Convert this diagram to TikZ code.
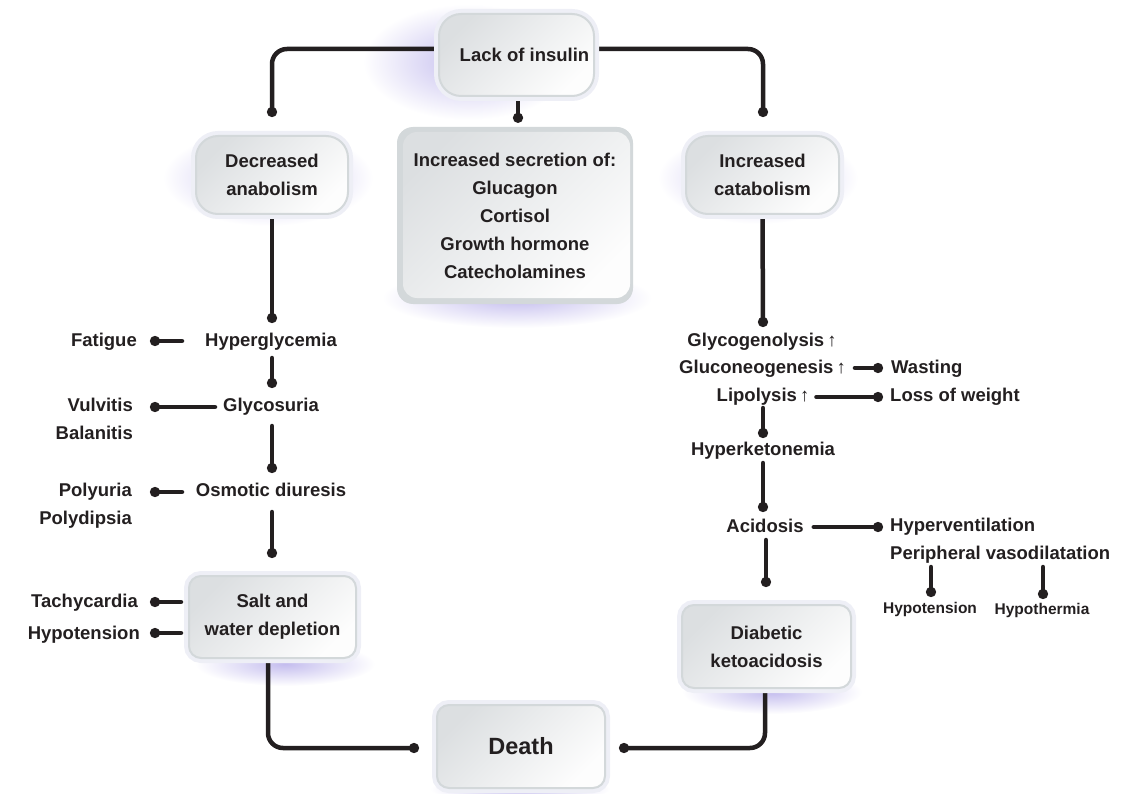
\documentclass[tikz,border=0pt]{standalone}
\usepackage{fontspec}
\setmainfont{Liberation Sans}
\usetikzlibrary{arrows.meta,calc}
\pgfdeclarelayer{glowlayer}
\pgfdeclarelayer{linelayer}
\pgfsetlayers{glowlayer,linelayer,main}
\definecolor{ink}{HTML}{231F20}
\definecolor{edge}{HTML}{D3D8DA}
\definecolor{rim}{HTML}{EEEFF6}
\definecolor{boxtop}{HTML}{DCDFE1}
\definecolor{boxbot}{HTML}{FDFDFD}
\definecolor{glow}{HTML}{C4BDEE}
\newcommand\mainfs{\fontsize{18.5}{28}\selectfont\bfseries}
\newcommand\smallfs{\fontsize{15.5}{20}\selectfont\bfseries}
\newcommand\bigfs{\fontsize{23.5}{28}\selectfont\bfseries}
\newcommand\uparr{{\mdseries\,↑}}
\begin{document}
\begin{tikzpicture}[x=1pt,y=-1pt,
  lbl/.style={font=\mainfs, text=ink, inner sep=0pt, text height=14.5pt, text depth=2.5pt},
  smalllbl/.style={font=\smallfs, text=ink, inner sep=0pt, text height=12pt, text depth=2pt},
  panel/.style={rectangle, rounded corners=12pt, draw=edge, line width=2pt,
    top color=boxtop, bottom color=boxbot, shading angle=45,
    preaction={draw=rim, line width=10pt},
    font=\mainfs, text=ink, align=center, inner sep=0pt},
  secbox/.style={rectangle, rounded corners=16pt, fill=edge, font=\mainfs, text=ink,
    align=center, inner sep=0pt,
    path picture={\shade[top color=boxtop, bottom color=boxbot, shading angle=45, rounded corners=14pt]
      ($(path picture bounding box.south west)+(6,-6)$) rectangle ($(path picture bounding box.north east)+(-3,5)$);}},
  link/.style={draw=ink, line width=4.5pt, line cap=round, rounded corners=15pt,
    -{Circle[length=10pt,width=10pt]}},
  glowfill/.style={inner color=glow, outer color=white}
]
\useasboundingbox (0,0) rectangle (1124,794);

% glows
\begin{pgfonlayer}{glowlayer}
  \shade[glowfill] (468,62) ellipse (105 and 58);
  \shade[glowfill] (268,178) ellipse (105 and 48);
  \shade[glowfill] (758,178) ellipse (100 and 46);
  \shade[glowfill] (517,298) ellipse (135 and 30);
  \shade[glowfill] (285,664) ellipse (90 and 22);
  \shade[glowfill] (772,692) ellipse (90 and 22);
  \shade[glowfill] (520,789) ellipse (90 and 14);
\end{pgfonlayer}

% boxes
\node[panel, rounded corners=22pt, minimum width=155pt, minimum height=82pt] (lack) at (516.5,55) {\hspace*{16pt}Lack of insulin};
\node[panel, rounded corners=22pt, minimum width=152pt, minimum height=78pt] (dec) at (272,175) {Decreased\\anabolism};
\node[panel, rounded corners=22pt, minimum width=153pt, minimum height=78pt] (cat) at (762.5,175) {Increased\\catabolism};
\node[secbox, minimum width=236pt, minimum height=177pt] (sec) at (515,215.5) {Increased secretion of:\\Glucagon\\Cortisol\\Growth hormone\\Catecholamines};
\node[panel, minimum width=167pt, minimum height=82pt] (salt) at (272.5,617) {Salt and\\water depletion};
\node[panel, minimum width=169pt, minimum height=83pt] (dka) at (766.5,646.5) {Diabetic\\ketoacidosis};
\node[panel, minimum width=168pt, minimum height=83pt, font=\bigfs] (death) at (521,746.5) {Death};

% left column labels
\node[lbl] (hg) at (271,340) {Hyperglycemia};
\node[lbl] (gly) at (271,405) {Glycosuria};
\node[lbl] (osm) at (271,490) {Osmotic diuresis};
\node[lbl, anchor=east] (fat) at (137,340) {Fatigue};
\node[lbl, anchor=east] (vul) at (133,405) {Vulvitis};
\node[lbl, anchor=east] (bal) at (133,433) {Balanitis};
\node[lbl, anchor=east] (polyu) at (132,490) {Polyuria};
\node[lbl, anchor=east] (polyd) at (132,518) {Polydipsia};
\node[lbl, anchor=east] (tachy) at (138,601) {Tachycardia};
\node[lbl, anchor=east] (hypo) at (140,633) {Hypotension};

% right column labels
\node[lbl] (glycogen) at (762,340) {Glycogenolysis\uparr};
\node[lbl] (gluco) at (762.5,367) {Gluconeogenesis\uparr};
\node[lbl] (lipo) at (763,395) {Lipolysis\uparr};
\node[lbl] (hk) at (763,449) {Hyperketonemia};
\node[lbl] (acid) at (765,526) {Acidosis};
\node[lbl, anchor=west] (wasting) at (891,367) {Wasting};
\node[lbl, anchor=west] (low) at (890,395) {Loss of weight};
\node[lbl, anchor=west] (hv) at (890,525) {Hyperventilation};
\node[lbl, anchor=west] (pv) at (890,553) {Peripheral vasodilatation};
\node[smalllbl] (hypo2) at (930,608) {Hypotension};
\node[smalllbl] (hyth) at (1042,609) {Hypothermia};

% connectors
\begin{pgfonlayer}{linelayer}
  \draw[link] ($(lack.west)+(-4,-6)$) -| ($(dec.north)+(0,-18)$);
  \draw[link] ($(lack.east)+(4,-6)$) -| ($(cat.north)+(0.5,-18)$);
  \draw[link] ($(lack.south)+(1.5,0)$) -- ($(sec.north)+(3,-4)$);

  \draw[link] (dec.south) -- ($(hg.center)+(1,-17)$);
  \draw[link] ($(hg.center)+(1,18)$) -- ($(gly.center)+(1,-17)$);
  \draw[link] ($(gly.center)+(1,21)$) -- ($(osm.center)+(1,-17)$);
  \draw[link] ($(osm.center)+(1,22)$) -- ($(salt.north)+(-0.5,-17)$);
  \draw[link] ($(salt.south)+(-4.5,0)$) |- ($(death.west)+(-17,1.5)$);
  \draw[link] ($(dka.south)+(-1.5,0)$) |- ($(death.east)+(13,1.5)$);

  \draw[link] ($(hg.center)+(-89,1)$) -- ($(fat.east)+(13,1)$);
  \draw[link] ($(gly.center)+(-56,2)$) -- ($(vul.east)+(17,2)$);
  \draw[link] ($(osm.center)+(-89,2)$) -- ($(polyu.east)+(18,2)$);
  \draw[link] ($(salt.west)+(-7,-15)$) -- ($(tachy.east)+(12,1)$);
  \draw[link] ($(salt.west)+(-7,16)$) -- ($(hypo.east)+(10,0)$);

  \draw[link] (cat.south) -- ($(glycogen.center)+(1,-13)$);
  \draw[link] ($(gluco.east)+(9,1)$) -- ($(wasting.west)+(-8,1)$);
  \draw[link] ($(lipo.east)+(7,2)$) -- ($(low.west)+(-7,2)$);
  \draw[link] ($(lipo.center)+(0,13)$) -- ($(hk.center)+(0,-11)$);
  \draw[link] ($(hk.center)+(0,14)$) -- ($(acid.center)+(-2,-14)$);
  \draw[link] ($(acid.east)+(10,1)$) -- ($(hv.west)+(-7,2)$);
  \draw[link] ($(acid.center)+(1,14)$) -- ($(dka.north)+(-0.5,-17)$);
  \draw[link] ($(pv.west)+(41,14)$) -- ($(hypo2.center)+(1,-11)$);
  \draw[link] ($(pv.west)+(153,14)$) -- ($(hyth.center)+(1,-10)$);
\end{pgfonlayer}
\end{tikzpicture}
\end{document}
